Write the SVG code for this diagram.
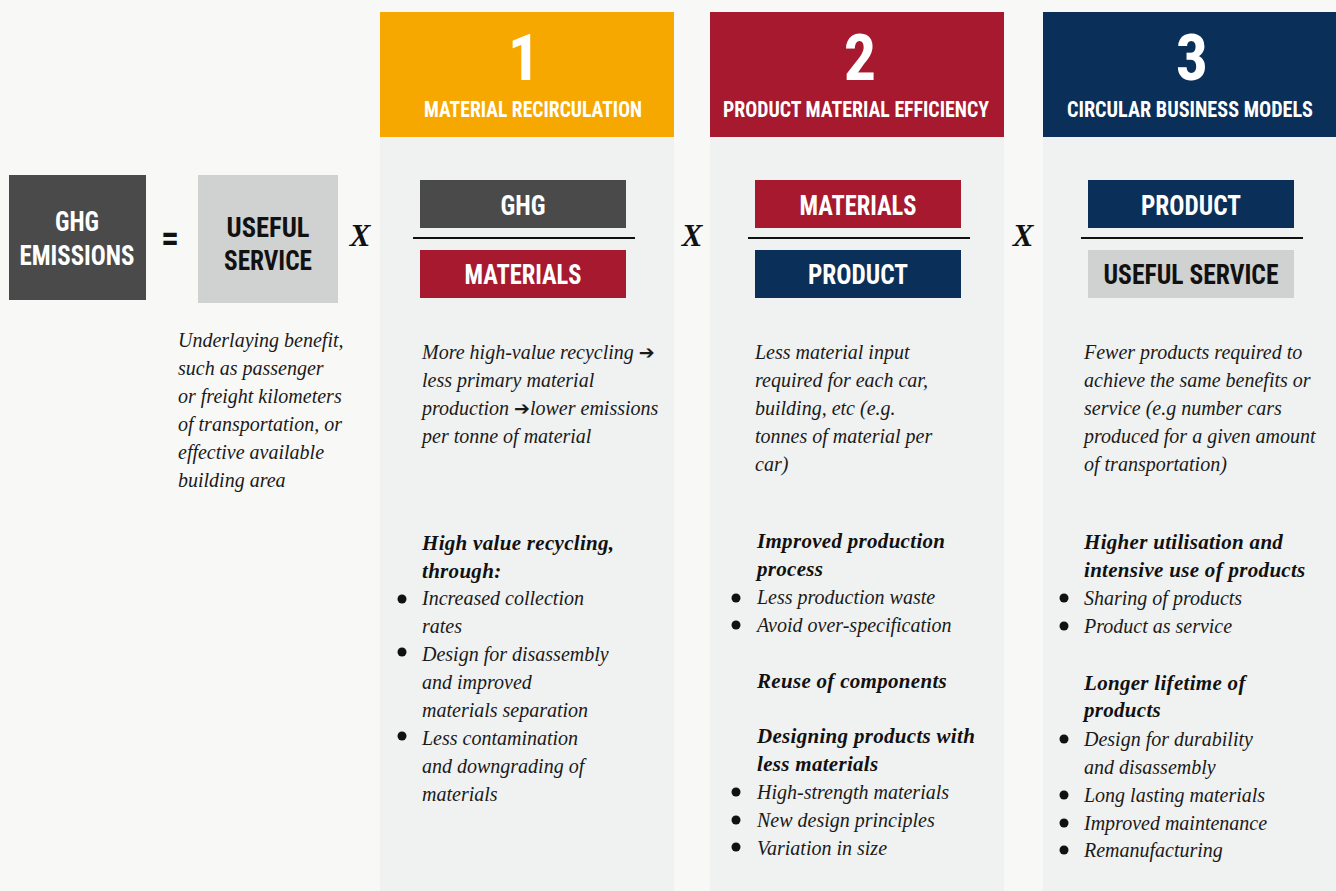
<svg xmlns="http://www.w3.org/2000/svg" width="1336" height="891" viewBox="0 0 1336 891">
<defs>
<style>
.cond{font-family:"Liberation Sans Narrow","Roboto Condensed","Liberation Sans",Arial,sans-serif;font-weight:bold;}
.w{fill:#ffffff;}
.k{fill:#111111;}
.it{font-family:"Liberation Serif","DejaVu Serif",serif;font-style:italic;font-size:20px;fill:#1a1a1a;}
.bi{font-family:"Liberation Serif","DejaVu Serif",serif;font-style:italic;font-weight:bold;font-size:21px;letter-spacing:0.3px;fill:#111111;}
.x{font-family:"Liberation Serif",serif;font-style:italic;font-weight:bold;font-size:31px;fill:#111111;}
.arr{font-family:"DejaVu Sans",sans-serif;font-style:normal;font-weight:bold;font-size:19px;}
.col{fill:#f0f1f1;}
.bar{stroke:#111111;stroke-width:2;}
</style>
</defs>
<rect x="0" y="0" width="1336" height="891" fill="#f8f8f7"/>

<g id="column1">
<rect class="col" x="380" y="12" width="294" height="879"/>
<rect x="380" y="12" width="294" height="125" fill="#f7a800"/>
<text class="cond w" x="524" y="80" font-size="64" text-anchor="middle">1</text>
<text class="cond w" x="533" y="117" font-size="22" text-anchor="middle" textLength="218" lengthAdjust="spacingAndGlyphs">MATERIAL RECIRCULATION</text>
</g>
<g id="column2">
<rect class="col" x="710" y="12" width="294" height="879"/>
<rect x="710" y="12" width="294" height="125" fill="#a6192e"/>
<text class="cond w" x="860" y="80" font-size="64" text-anchor="middle">2</text>
<text class="cond w" x="856" y="117" font-size="22" text-anchor="middle" textLength="266" lengthAdjust="spacingAndGlyphs">PRODUCT MATERIAL EFFICIENCY</text>
</g>
<g id="column3">
<rect class="col" x="1043" y="12" width="293" height="879"/>
<rect x="1043" y="12" width="293" height="125" fill="#0a3059"/>
<text class="cond w" x="1192" y="80" font-size="64" text-anchor="middle">3</text>
<text class="cond w" x="1190" y="117" font-size="22" text-anchor="middle" textLength="246" lengthAdjust="spacingAndGlyphs">CIRCULAR BUSINESS MODELS</text>
</g>

<g id="ghg-emissions">
<rect x="9" y="175" width="137" height="125" fill="#4a4a4a"/>
<text class="cond w" x="77" y="231" font-size="28" text-anchor="middle" textLength="44" lengthAdjust="spacingAndGlyphs">GHG</text>
<text class="cond w" x="77" y="265" font-size="28" text-anchor="middle" textLength="115" lengthAdjust="spacingAndGlyphs">EMISSIONS</text>
</g>
<g id="equals">
<text class="cond k" x="170" y="251" font-size="36" text-anchor="middle">=</text>
</g>
<g id="useful-service">
<rect x="198" y="175" width="140" height="128" fill="#d0d2d1"/>
<text class="cond k" x="268" y="237" font-size="28" text-anchor="middle" textLength="83" lengthAdjust="spacingAndGlyphs">USEFUL</text>
<text class="cond k" x="268" y="270" font-size="28" text-anchor="middle" textLength="88" lengthAdjust="spacingAndGlyphs">SERVICE</text>
<text class="it" x="178" y="347">Underlaying benefit,</text>
<text class="it" x="178" y="375">such as passenger</text>
<text class="it" x="178" y="403">or freight kilometers</text>
<text class="it" x="178" y="431">of transportation, or</text>
<text class="it" x="178" y="459">effective available</text>
<text class="it" x="178" y="487">building area</text>
</g>

<g id="operators">
<text class="x" x="360" y="246" text-anchor="middle">X</text>
<text class="x" x="692" y="246" text-anchor="middle">X</text>
<text class="x" x="1023" y="246" text-anchor="middle">X</text>
</g>

<g id="fraction1">
<rect x="420" y="180" width="206" height="48" fill="#4a4a4a"/>
<text class="cond w" x="523" y="215" font-size="28" text-anchor="middle" textLength="45" lengthAdjust="spacingAndGlyphs">GHG</text>
<line class="bar" x1="413" y1="238" x2="635" y2="238"/>
<rect x="420" y="250" width="206" height="48" fill="#a6192e"/>
<text class="cond w" x="523" y="284" font-size="28" text-anchor="middle" textLength="117" lengthAdjust="spacingAndGlyphs">MATERIALS</text>
</g>
<g id="fraction2">
<rect x="755" y="180" width="206" height="48" fill="#a6192e"/>
<text class="cond w" x="858" y="215" font-size="28" text-anchor="middle" textLength="117" lengthAdjust="spacingAndGlyphs">MATERIALS</text>
<line class="bar" x1="748" y1="238" x2="970" y2="238"/>
<rect x="755" y="250" width="206" height="48" fill="#0a3059"/>
<text class="cond w" x="858" y="284" font-size="28" text-anchor="middle" textLength="100" lengthAdjust="spacingAndGlyphs">PRODUCT</text>
</g>
<g id="fraction3">
<rect x="1088" y="180" width="206" height="48" fill="#0a3059"/>
<text class="cond w" x="1191" y="215" font-size="28" text-anchor="middle" textLength="100" lengthAdjust="spacingAndGlyphs">PRODUCT</text>
<line class="bar" x1="1081" y1="238" x2="1303" y2="238"/>
<rect x="1088" y="250" width="206" height="48" fill="#d0d2d1"/>
<text class="cond k" x="1191" y="284" font-size="28" text-anchor="middle" textLength="175" lengthAdjust="spacingAndGlyphs">USEFUL SERVICE</text>
</g>

<g id="text1">
<text class="it" x="422" y="359">More high-value recycling <tspan class="arr">➔</tspan></text>
<text class="it" x="422" y="387">less primary material</text>
<text class="it" x="422" y="415">production <tspan class="arr">➔</tspan>lower emissions</text>
<text class="it" x="422" y="443">per tonne of material</text>
<text class="bi" x="422" y="550">High value recycling,</text>
<text class="bi" x="422" y="578">through:</text>
<circle cx="402" cy="599" r="4.5" fill="#111"/>
<text class="it" x="422" y="605">Increased collection</text>
<text class="it" x="422" y="633">rates</text>
<circle cx="402" cy="652" r="4.5" fill="#111"/>
<text class="it" x="422" y="661">Design for disassembly</text>
<text class="it" x="422" y="689">and improved</text>
<text class="it" x="422" y="717">materials separation</text>
<circle cx="402" cy="736" r="4.5" fill="#111"/>
<text class="it" x="422" y="745">Less contamination</text>
<text class="it" x="422" y="773">and downgrading of</text>
<text class="it" x="422" y="801">materials</text>
</g>

<g id="text2">
<text class="it" x="755" y="359">Less material input</text>
<text class="it" x="755" y="387">required for each car,</text>
<text class="it" x="755" y="415">building, etc (e.g.</text>
<text class="it" x="755" y="443">tonnes of material per</text>
<text class="it" x="755" y="471">car)</text>
<text class="bi" x="757" y="548">Improved production</text>
<text class="bi" x="757" y="576">process</text>
<circle cx="736" cy="598" r="4.5" fill="#111"/>
<text class="it" x="757" y="604">Less production waste</text>
<circle cx="736" cy="625" r="4.5" fill="#111"/>
<text class="it" x="757" y="632">Avoid over-specification</text>
<text class="bi" x="757" y="688">Reuse of components</text>
<text class="bi" x="757" y="743">Designing products with</text>
<text class="bi" x="757" y="771">less materials</text>
<circle cx="736" cy="792" r="4.5" fill="#111"/>
<text class="it" x="757" y="799">High-strength materials</text>
<circle cx="736" cy="820" r="4.5" fill="#111"/>
<text class="it" x="757" y="827">New design principles</text>
<circle cx="736" cy="847" r="4.5" fill="#111"/>
<text class="it" x="757" y="855">Variation in size</text>
</g>

<g id="text3">
<text class="it" x="1084" y="359">Fewer products required to</text>
<text class="it" x="1084" y="387">achieve the same benefits or</text>
<text class="it" x="1084" y="415">service (e.g number cars</text>
<text class="it" x="1084" y="443">produced for a given amount</text>
<text class="it" x="1084" y="471">of transportation)</text>
<text class="bi" x="1084" y="549">Higher utilisation and</text>
<text class="bi" x="1084" y="577">intensive use of products</text>
<circle cx="1064" cy="598" r="4.5" fill="#111"/>
<text class="it" x="1084" y="605">Sharing of products</text>
<circle cx="1064" cy="626" r="4.5" fill="#111"/>
<text class="it" x="1084" y="633">Product as service</text>
<text class="bi" x="1084" y="690">Longer lifetime of</text>
<text class="bi" x="1084" y="717">products</text>
<circle cx="1064" cy="739" r="4.5" fill="#111"/>
<text class="it" x="1084" y="746">Design for durability</text>
<text class="it" x="1084" y="774">and disassembly</text>
<circle cx="1064" cy="795" r="4.5" fill="#111"/>
<text class="it" x="1084" y="802">Long lasting materials</text>
<circle cx="1064" cy="823" r="4.5" fill="#111"/>
<text class="it" x="1084" y="830">Improved maintenance</text>
<circle cx="1064" cy="850" r="4.5" fill="#111"/>
<text class="it" x="1084" y="857">Remanufacturing</text>
</g>
</svg>
